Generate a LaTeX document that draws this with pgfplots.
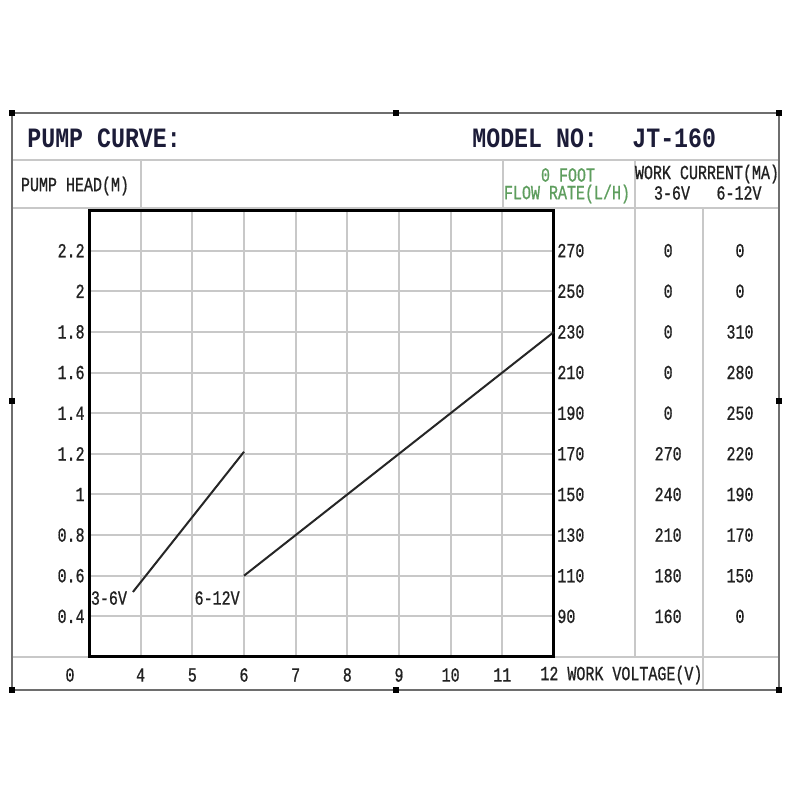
\documentclass[border=0pt]{standalone}
\usepackage{fontspec}
\usepackage{pgfplots}
\pgfplotsset{compat=1.18}
\setmainfont{Liberation Mono}[FakeStretch=0.75, FakeBold=0.8]
\newfontfamily\titlef{Liberation Mono}[FakeStretch=0.83]
\definecolor{gridc}{HTML}{C8C8C8}
\definecolor{framec}{HTML}{6E6E6E}
\definecolor{txt}{HTML}{222222}
\definecolor{greenc}{HTML}{5E9E5E}
\definecolor{navy}{HTML}{1C1C38}
\begin{document}
\begin{tikzpicture}[font=\fontsize{10}{12}\selectfont, text=txt]
\begin{scope}[x=0.5pt, y=-0.5pt, yshift=400pt]
\fill[white] (0,0) rectangle (800,800);
\draw[gridc, line width=1pt] (12,160)--(779,160);
\draw[gridc, line width=0.8pt] (12,208)--(779,208);
\draw[gridc, line width=1pt] (12,657)--(779,657);
\draw[gridc, line width=1pt] (141,160)--(141,208);
\draw[gridc, line width=1pt] (503,160)--(503,208);
\draw[gridc, line width=1pt] (635,160)--(635,657);
\draw[gridc, line width=1pt] (703,208)--(703,690);
\draw[framec, line width=1.2pt] (12,113) rectangle (779,690);
\foreach \px/\py in {12/113,396/113,779/113,12/401,779/401,12/690,396/690,779/690}
  \fill[black] (\px-3,\py-3) rectangle (\px+3,\py+3);
\node[anchor=west, inner sep=0pt, text=navy] at (27,138) {\titlef\bfseries\fontsize{14}{16}\selectfont PUMP CURVE:};
\node[anchor=west, inner sep=0pt, text=navy] at (472,138) {\titlef\bfseries\fontsize{14}{16}\selectfont MODEL NO:};
\node[anchor=west, inner sep=0pt, text=navy] at (632,138) {\titlef\bfseries\fontsize{14}{16}\selectfont JT-160};
\node[inner sep=0pt] at (75,186) {PUMP HEAD(M)};
\node[inner sep=0pt, text=greenc] at (568,175) {0 FOOT};
\node[inner sep=0pt, text=greenc] at (567,194) {FLOW RATE(L/H)};
\node[inner sep=0pt] at (707,174) {WORK CURRENT(MA)};
\node[inner sep=0pt] at (672,193) {3-6V};
\node[inner sep=0pt] at (739,193) {6-12V};
\node[inner sep=0pt] at (70,675) {0};
\node[anchor=west, inner sep=0pt] at (540,675) {12 WORK VOLTAGE(V)};
\end{scope}
\begin{axis}[
  at={(44.5pt,71.5pt)}, anchor=south west,
  scale only axis, width=232.5pt, height=223.5pt,
  xmin=3, xmax=12, ymin=0.2, ymax=2.4,
  xtick={4,5,6,7,8,9,10,11},
  ytick={0.4,0.6,0.8,1,1.2,1.4,1.6,1.8,2,2.2},
  yticklabels={0.4,0.6,0.8,1,1.2,1.4,1.6,1.8,2,2.2},
  grid=major, major grid style={gridc, line width=1pt},
  major tick length=0pt,
  axis line style={black, line width=1.5pt},
  /pgf/number format/assume math mode=true,
  ticklabel style={font=\fontsize{10}{12}\selectfont, text=txt},
  xticklabel style={anchor=center, inner sep=0pt, yshift=-9pt},
  yticklabel style={anchor=east, inner sep=0pt, xshift=-2pt},
  clip=false,
]
\addplot[color=black!85, line width=1pt] coordinates {(3.85,0.52) (6,1.21)};
\addplot[color=black!85, line width=1pt] coordinates {(6,0.6) (12,1.8)};
\node[anchor=west, inner sep=0pt] at (axis cs:3.03,0.49) {3-6V};
\node[inner sep=0pt] at (axis cs:5.48,0.49) {6-12V};
% work current table (3-6V, 6-12V)
\foreach \yy/\a/\b in {2.2/0/0, 2/0/0, 1.8/0/310, 1.6/0/280, 1.4/0/250, 1.2/270/220, 1/240/190, 0.8/210/170, 0.6/180/150, 0.4/160/0}{
  \edef\tmp{\noexpand\node[inner sep=0pt] at (axis cs:14.21,\yy) {\a};
            \noexpand\node[inner sep=0pt] at (axis cs:15.6,\yy) {\b};}
  \tmp
}
\end{axis}
\begin{axis}[
  at={(44.5pt,71.5pt)}, anchor=south west,
  scale only axis, width=232.5pt, height=223.5pt,
  xmin=3, xmax=12, ymin=70, ymax=290,
  axis y line*=right, axis x line=none,
  axis line style={draw=none},
  ytick={90,110,130,150,170,190,210,230,250,270},
  major tick length=0pt,
  /pgf/number format/assume math mode=true,
  ticklabel style={font=\fontsize{10}{12}\selectfont, text=txt},
  yticklabel style={anchor=west, inner sep=0pt, xshift=1.5pt},
]
\addplot[draw=none] coordinates {(3,90) (12,270)};
\end{axis}
\end{tikzpicture}
\end{document}
